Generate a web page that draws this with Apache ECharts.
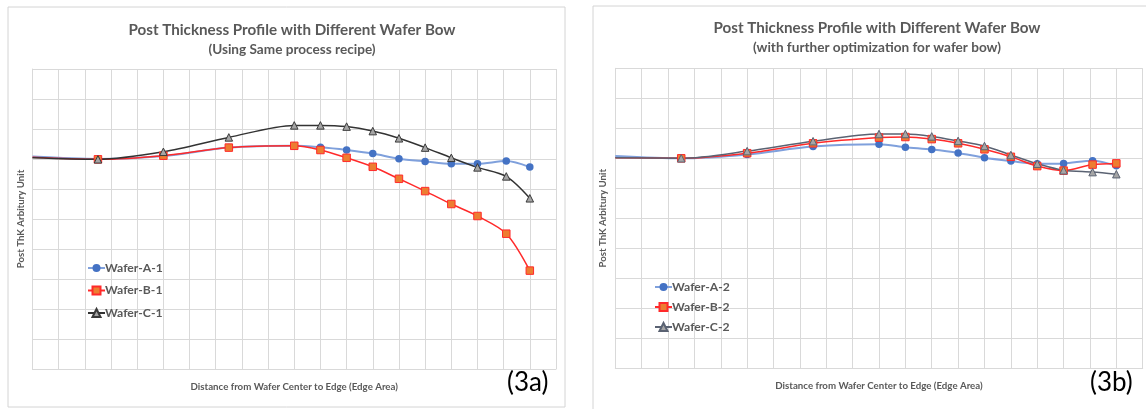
<!DOCTYPE html>
<html>
<head>
<meta charset="utf-8">
<script src="https://cdn.jsdelivr.net/npm/echarts@6/dist/echarts.min.js"></script>
<style>
  html, body { margin: 0; padding: 0; background: #fff; }
  #main { width: 1146px; height: 409px; }
</style>
</head>
<body>
<div id="main"></div>
<script>
// x positions along the edge profile (grid columns), first one is the clipped start point
var xPos = [0, 2.5, 5, 7.5, 10, 11, 12, 13, 14, 15, 16, 17, 18.1, 19];

// (3a) same process recipe
var waferA1 = [7.08, 7.0, 7.1, 7.38, 7.44, 7.39, 7.3, 7.18, 7.01, 6.92, 6.84, 6.84, 6.93, 6.73];
var waferB1 = [7.06, 6.99, 7.11, 7.38, 7.44, 7.3, 7.04, 6.74, 6.34, 5.93, 5.5, 5.1, 4.51, 3.28];
var waferC1 = [7.04, 6.99, 7.24, 7.72, 8.12, 8.12, 8.08, 7.93, 7.69, 7.38, 7.04, 6.72, 6.42, 5.69];

// (3b) further optimization for wafer bow
var waferA2 = [7.08, 7.0, 7.13, 7.39, 7.47, 7.37, 7.29, 7.18, 7.02, 6.91, 6.82, 6.83, 6.92, 6.75];
var waferB2 = [7.02, 7.0, 7.17, 7.5, 7.69, 7.71, 7.64, 7.5, 7.3, 7.05, 6.74, 6.59, 6.79, 6.83];
var waferC2 = [7.02, 7.0, 7.24, 7.57, 7.81, 7.81, 7.73, 7.58, 7.41, 7.11, 6.82, 6.6, 6.54, 6.47];

var names1 = ['Wafer-A-1', 'Wafer-B-1', 'Wafer-C-1'];
var names2 = ['Wafer-A-2', 'Wafer-B-2', 'Wafer-C-2'];

var font = 'Lato, "Open Sans", sans-serif';
var txtColor = '#595959';
var gridColor = '#d9d9d9';

var toPoints = function (vals) {
    return vals.map(function (v, i) {
        var item = {value: [xPos[i], v]};
        if (i === 0) {
            item.symbol = 'none';
        }
        return item;
    });
};

var xAxisOf = function (idx) {
    return {
        type: 'value', gridIndex: idx, min: 0, max: 20, interval: 1,
        axisLabel: {show: false}, axisTick: {show: false},
        axisLine: {show: true, lineStyle: {color: gridColor}},
        splitLine: {show: true, lineStyle: {color: gridColor, width: 1}},
        name: 'Distance from Wafer Center to Edge (Edge Area)',
        nameLocation: 'middle', nameGap: 13,
        nameTextStyle: {color: txtColor, fontFamily: font, fontSize: 9.7, fontWeight: 'bold'}
    };
};
var yAxisOf = function (idx) {
    return {
        type: 'value', gridIndex: idx, min: 0, max: 10, interval: 1,
        axisLabel: {show: false}, axisTick: {show: false},
        axisLine: {show: true, lineStyle: {color: gridColor}},
        splitLine: {show: true, lineStyle: {color: gridColor, width: 1}},
        name: 'Post ThK Arbitury Unit',
        nameLocation: 'middle', nameGap: 7,
        nameTextStyle: {color: txtColor, fontFamily: font, fontSize: 9.7, fontWeight: 'bold'}
    };
};

var seriesOf = function (name, vals, idx, kind) {
    var s = {
        name: name, type: 'line', xAxisIndex: idx, yAxisIndex: idx,
        data: toPoints(vals), smooth: 0.3, symbolSize: 7.5, z: 3
    };
    if (kind === 'A') {
        s.symbol = 'circle';
        s.itemStyle = {color: '#4472c4'};
        s.lineStyle = {color: '#7fa0dc', width: 2};
    } else if (kind === 'B') {
        s.symbol = 'rect';
        s.itemStyle = {color: '#ed7d31', borderColor: '#ff2a2a', borderWidth: 1};
        s.lineStyle = {color: '#ff2a2a', width: 1.5};
    } else {
        s.symbol = 'triangle';
        s.itemStyle = {color: '#a5a5a5', borderColor: idx === 0 ? '#3a3a3a' : '#5a6272', borderWidth: 1};
        s.lineStyle = {color: idx === 0 ? '#333333' : '#5a6272', width: 1.5};
    }
    return s;
};

var legendOf = function (data, left, top, gap) {
    return {
        data: data, orient: 'vertical', left: left, top: top,
        itemWidth: 17, itemHeight: 10, itemGap: gap,
        textStyle: {color: txtColor, fontFamily: font, fontSize: 12.2, fontWeight: 'bold', lineHeight: 14, padding: [0, 0, 0, -5]}
    };
};

var chart = echarts.init(document.getElementById('main'));
var option = {
    backgroundColor: '#ffffff',
    animation: false,
    title: [{
        text: 'Post Thickness Profile with Different Wafer Bow',
        subtext: '(Using Same process recipe)',
        left: 287, top: 18, textAlign: 'center', itemGap: 5,
        textStyle: {color: txtColor, fontFamily: font, fontSize: 15.2, fontWeight: 'bold'},
        subtextStyle: {color: txtColor, fontFamily: font, fontSize: 13.6, fontWeight: 'bold'}
    }, {
        text: 'Post Thickness Profile with Different Wafer Bow',
        subtext: '(with further optimization for wafer bow)',
        left: 872, top: 16, textAlign: 'center', itemGap: 5,
        textStyle: {color: txtColor, fontFamily: font, fontSize: 15.2, fontWeight: 'bold'},
        subtextStyle: {color: txtColor, fontFamily: font, fontSize: 13.6, fontWeight: 'bold'}
    }],
    legend: [
        legendOf(names1, 82, 256, 8.5),
        legendOf(names2, 649, 275, 6)
    ],
    grid: [
        {left: 32.5, top: 69, width: 523.5, height: 300},
        {left: 615.3, top: 68.3, width: 527.4, height: 300}
    ],
    xAxis: [xAxisOf(0), xAxisOf(1)],
    yAxis: [yAxisOf(0), yAxisOf(1)],
    series: [
        seriesOf(names1[0], waferA1, 0, 'A'),
        seriesOf(names1[1], waferB1, 0, 'B'),
        seriesOf(names1[2], waferC1, 0, 'C'),
        seriesOf(names2[0], waferA2, 1, 'A'),
        seriesOf(names2[1], waferB2, 1, 'B'),
        seriesOf(names2[2], waferC2, 1, 'C')
    ],
    graphic: [
        {type: 'rect', shape: {x: 8, y: 7, width: 557, height: 400}, style: {fill: 'none', stroke: '#d4d4d4', lineWidth: 1}, silent: true},
        {type: 'rect', shape: {x: 593, y: 6, width: 580, height: 420}, style: {fill: 'none', stroke: '#d4d4d4', lineWidth: 1}, silent: true},
        {type: 'text', left: 507, top: 370, style: {text: '(3a)', fill: '#000000', font: '26px ' + font}},
        {type: 'text', left: 1090, top: 370, style: {text: '(3b)', fill: '#000000', font: '26px ' + font}}
    ]
};
chart.setOption(option);
</script>
</body>
</html>
